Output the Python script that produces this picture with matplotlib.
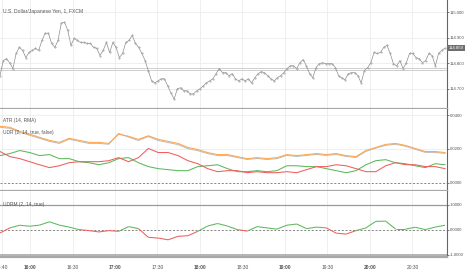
import numpy as np
import matplotlib
matplotlib.use("Agg")
import matplotlib.pyplot as plt
from matplotlib.collections import LineCollection

plt.rcParams['font.family'] = ['Liberation Sans Narrow', 'Liberation Sans', 'DejaVu Sans']

# ---------------- data ----------------
title = "U.S. Dollar/Japanese Yen, 1, FXCM"
t_start, t_end = -21.2, 293.0          # minutes relative to 16:00
x_limits = (-21.2, 294.4)

price = [114.751, 114.810, 114.818, 114.802, 114.779, 114.838, 114.862, 114.850, 114.822, 114.842,
         114.850, 114.858, 114.850, 114.889, 114.917, 114.917, 114.877, 114.862, 114.889, 114.957,
         114.960, 114.929, 114.870, 114.897, 114.889, 114.881, 114.881, 114.877, 114.877, 114.862,
         114.858, 114.830, 114.850, 114.881, 114.842, 114.881, 114.862, 114.822,
         114.838, 114.881, 114.889, 114.909, 114.877, 114.862, 114.838, 114.810, 114.771, 114.731,
         114.723, 114.731, 114.739, 114.739, 114.711, 114.684, 114.660, 114.700, 114.704, 114.692,
         114.692, 114.680, 114.680, 114.692, 114.700, 114.711, 114.723, 114.731, 114.739, 114.759,
         114.779, 114.763, 114.763,
         114.751, 114.759, 114.739, 114.731, 114.739, 114.731, 114.739, 114.723, 114.743, 114.759,
         114.767, 114.763, 114.751, 114.739, 114.731, 114.743, 114.751, 114.763, 114.779, 114.790,
         114.790, 114.779, 114.802, 114.814, 114.790, 114.759, 114.743, 114.783, 114.798, 114.802,
         114.798, 114.798,
         114.798, 114.783, 114.751, 114.743, 114.735, 114.759, 114.763, 114.763, 114.751, 114.723,
         114.771, 114.783, 114.802, 114.842, 114.838, 114.842, 114.862, 114.870, 114.838, 114.798,
         114.790, 114.810, 114.779, 114.802, 114.838, 114.838, 114.822, 114.818, 114.802, 114.810,
         114.838, 114.830, 114.790, 114.838, 114.850, 114.859]
last_price = 114.859
hline_levels = [114.783, 114.775]

atr = [0.0334, 0.0328, 0.0304, 0.0287, 0.0269, 0.0251, 0.0239, 0.0263, 0.0251, 0.0239,
       0.0239, 0.0233, 0.0287, 0.0275, 0.0257, 0.0278, 0.0257, 0.0245, 0.0233, 0.0209,
       0.0197, 0.0179, 0.0167, 0.0167, 0.0155, 0.0143, 0.0149, 0.0143, 0.0149, 0.0167,
       0.0161, 0.0167, 0.0173, 0.0167, 0.0173, 0.0161, 0.0155, 0.0191, 0.0209, 0.0227,
       0.0233, 0.0221, 0.0203, 0.0185, 0.0185, 0.0179]
udr_sum = [0.0328, 0.0322, 0.0298, 0.0281, 0.0263, 0.0245, 0.0233, 0.0258, 0.0245, 0.0233,
           0.0233, 0.0228, 0.0292, 0.0270, 0.0250, 0.0274, 0.0250, 0.0238, 0.0226, 0.0202,
           0.0190, 0.0173, 0.0161, 0.0161, 0.0150, 0.0138, 0.0144, 0.0138, 0.0143, 0.0162,
           0.0156, 0.0162, 0.0168, 0.0162, 0.0168, 0.0156, 0.0150, 0.0186, 0.0205, 0.0222,
           0.0228, 0.0216, 0.0198, 0.0180, 0.0180, 0.0174]
udr_up = [0.0161, 0.0173, 0.0191, 0.0179, 0.0161, 0.0167, 0.0143, 0.0143, 0.0125, 0.0119,
          0.0107, 0.0119, 0.0143, 0.0149, 0.0119, 0.0096, 0.0084, 0.0078, 0.0072, 0.0072,
          0.0096, 0.0101, 0.0107, 0.0084, 0.0066, 0.0066, 0.0072, 0.0066, 0.0072, 0.0101,
          0.0101, 0.0096, 0.0096, 0.0084, 0.0072, 0.0060, 0.0072, 0.0107, 0.0131, 0.0137,
          0.0119, 0.0113, 0.0101, 0.0090, 0.0113, 0.0107]
udr_down = [0.0185, 0.0155, 0.0143, 0.0125, 0.0107, 0.0090, 0.0101, 0.0119, 0.0125, 0.0125,
            0.0125, 0.0131, 0.0149, 0.0125, 0.0149, 0.0203, 0.0179, 0.0179, 0.0161, 0.0131,
            0.0113, 0.0084, 0.0066, 0.0072, 0.0072, 0.0060, 0.0066, 0.0060, 0.0060, 0.0066,
            0.0060, 0.0078, 0.0096, 0.0096, 0.0107, 0.0101, 0.0084, 0.0066, 0.0066, 0.0101,
            0.0119, 0.0107, 0.0107, 0.0096, 0.0096, 0.0084]
udrm = [-0.135, 0.069, 0.176, 0.135, 0.180, 0.314, 0.180, 0.100, 0.000, -0.040,
        -0.094, -0.040, -0.069, 0.120, 0.040, -0.310, -0.340, -0.410, -0.270, -0.245,
        -0.069, 0.143, 0.245, 0.143, 0.000, -0.060, 0.120, 0.069, 0.020, 0.176,
        0.224, 0.040, 0.100, 0.069, -0.143, -0.180, -0.040, 0.069, 0.330, 0.340,
        0.020, 0.020, 0.094, 0.000, 0.100, 0.176]

tick_minutes = [-20, 0, 30, 60, 90, 120, 150, 180, 210, 240, 270]
tick_labels = ["15:40", "16:00", "16:30", "17:00", "17:30", "18:00",
               "18:30", "19:00", "19:30", "20:00", "20:30"]
bold_labels = ["16:00", "17:00", "18:00", "19:00", "20:00"]

price_ticks = [114.7, 114.8, 114.9, 115.0]
atr_ticks = [0.0, 0.02, 0.04]
udrm_ticks = [-1.0, 0.0, 1.0]

# ---------------- style ----------------
C_PRICE = '#8e8e8e'
C_ORANGE = '#ffa64d'
C_GRAYL = '#bdbdbd'
C_GREEN = '#5cb85c'
C_RED = '#f25c5c'
C_GRID = '#ededed'
C_SEP = '#a8a8a8'
C_TXT = '#555555'
FS = 3.5
FS_R = 3.1
LW = 0.75

W, H = 466, 275
fig = plt.figure(figsize=(W / 100, H / 100), dpi=100)
right = 447 / W

def frac(y):
    return 1 - y / H

ax_p = fig.add_axes([0, frac(109), right, frac(0) - frac(109)])
ax_a = fig.add_axes([0, frac(191), right, frac(109) - frac(191)])
ax_u = fig.add_axes([0, frac(257), right, frac(191) - frac(257)])

t_price = np.linspace(t_start, t_end, len(price))
t_ind = np.linspace(t_start, t_end, len(atr))

for ax in (ax_p, ax_a, ax_u):
    ax.set_xlim(*x_limits)
    ax.set_facecolor('white')
    for s in ('top', 'left'):
        ax.spines[s].set_visible(False)
    ax.spines['bottom'].set_color(C_SEP)
    ax.spines['bottom'].set_linewidth(1.6)
    ax.spines['right'].set_color('#666666')
    ax.spines['right'].set_linewidth(0.8)
    ax.yaxis.tick_right()
    ax.tick_params(axis='y', labelsize=FS_R, colors='#666666', length=1.2, width=0.6, pad=0.6,
                   labelcolor=C_TXT)
    for tm in tick_minutes:
        ax.axvline(tm, color=C_GRID, lw=0.6, zorder=0)
    ax.set_xticks(tick_minutes)
    if ax is not ax_u:
        ax.tick_params(axis='x', length=0, labelbottom=False)

# price panel
ax_p.set_ylim(114.621, 115.047)
ax_p.set_yticks(price_ticks)
ax_p.set_yticklabels([f"{v:.3f}" for v in price_ticks])
for v in price_ticks:
    ax_p.axhline(v, color=C_GRID, lw=0.6, zorder=0)
for lv in hline_levels:
    ax_p.axhline(lv, color='#c8c8c8', lw=0.6, zorder=1)
ax_p.plot(t_price, price, color=C_PRICE, lw=0.5, zorder=3)
ax_p.plot(t_price, price, ls='none', marker='.', ms=0.9, color='#a0a0a0', zorder=3)
ax_p.text(0.007, 0.895, title, transform=ax_p.transAxes, fontsize=3.6, color=C_TXT,
          ha='left', va='center')
ax_p.annotate(f"{last_price:.3f}", xy=(1.0, last_price), xycoords=('axes fraction', 'data'),
              xytext=(1.0, 0), textcoords='offset points', fontsize=FS_R, color='white',
              ha='left', va='center', annotation_clip=False,
              bbox=dict(boxstyle='square,pad=0.3', fc='#6e6e6e', ec='none'))

# ATR / UDR panel
ax_a.set_ylim(-0.0048, 0.0436)
ax_a.set_yticks(atr_ticks)
ax_a.set_yticklabels([f"{v:.4f}" for v in atr_ticks])
for v in atr_ticks[1:]:
    ax_a.axhline(v, color=C_GRID, lw=0.6, zorder=0)
ax_a.axhline(0, color='#777777', lw=0.6, ls=(0, (2.5, 2)), zorder=1)
ax_a.plot(t_ind, udr_sum, color=C_GRAYL, lw=LW, zorder=2)
ax_a.plot(t_ind, atr, color=C_ORANGE, lw=LW, zorder=3)
ax_a.plot(t_ind, udr_up, color=C_GREEN, lw=LW, zorder=3)
ax_a.plot(t_ind, udr_down, color=C_RED, lw=LW, zorder=3)
ax_a.text(0.007, 0.86, "ATR (14, RMA)", transform=ax_a.transAxes, fontsize=FS,
          color=C_TXT, ha='left', va='center')
ax_a.text(0.007, 0.715, "UDR (2, 14, true, false)", transform=ax_a.transAxes, fontsize=FS,
          color=C_TXT, ha='left', va='center')

# UDRM panel
ax_u.set_ylim(-1.10, 1.55)
ax_u.set_yticks(udrm_ticks)
ax_u.set_yticklabels([f"{v:.4f}" for v in udrm_ticks])
ax_u.axhline(1.0, color='#9a9a9a', lw=0.9, zorder=1)
ax_u.axhline(-1.0, color='#a8a8a8', lw=1.2, zorder=1)
ax_u.axhline(0.0, color='#777777', lw=0.6, ls=(0, (2.5, 2)), zorder=1)
pts = np.column_stack([t_ind, udrm])
segs = np.stack([pts[:-1], pts[1:]], axis=1)
mids = (np.array(udrm[:-1]) + np.array(udrm[1:])) / 2
cols = [C_GREEN if m >= 0 else C_RED for m in mids]
ax_u.add_collection(LineCollection(segs, colors=cols, linewidths=LW, zorder=3))
ax_u.text(0.007, 0.80, "UDRM (2, 14, true)", transform=ax_u.transAxes, fontsize=FS,
          color=C_TXT, ha='left', va='center')
ax_u.set_xticklabels(tick_labels)
ax_u.tick_params(axis='x', length=0, labelsize=FS, labelcolor=C_TXT, pad=6)
for lab in ax_u.get_xticklabels():
    if lab.get_text() in bold_labels:
        lab.set_fontweight('bold')

fig.savefig("out.png", dpi=100)
